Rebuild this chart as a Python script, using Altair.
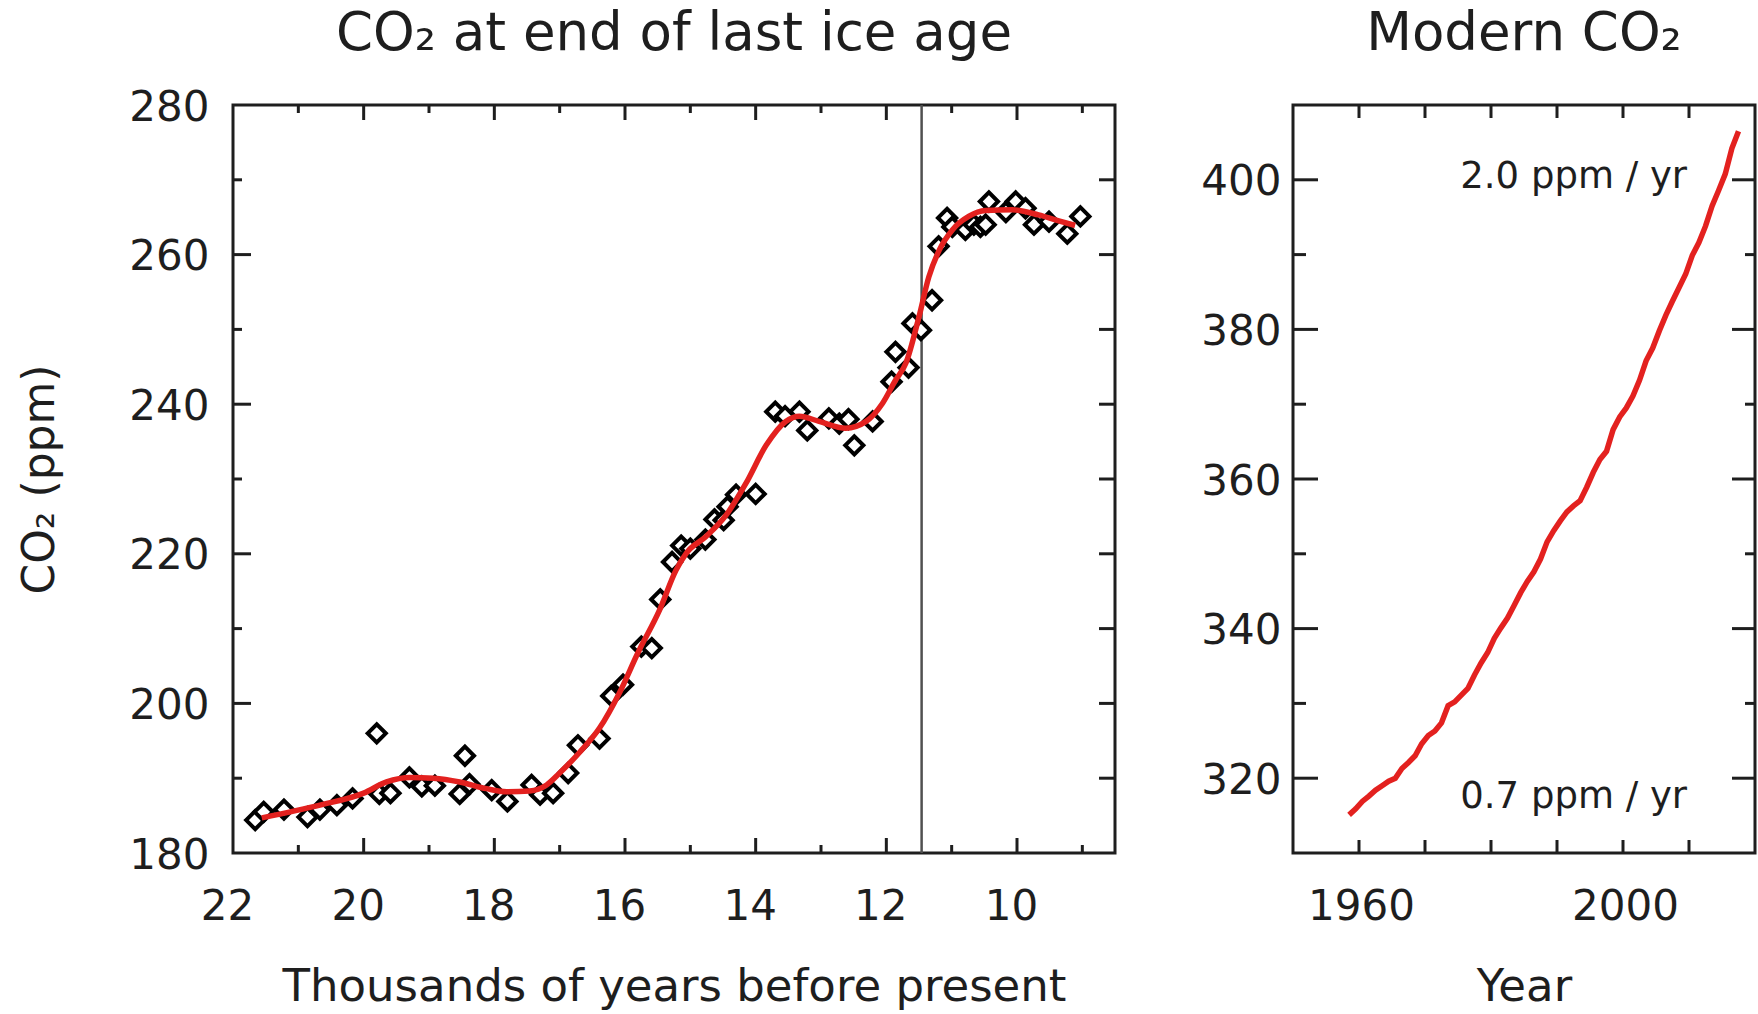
import altair as alt
import pandas as pd

FONT = "DejaVu Sans"
INK = "#1e1e1e"
RED = "#e3211f"

# Ice-core CO2 measurements across the last deglaciation
ice_kyr = [21.66, 21.53, 21.22, 20.86, 20.67, 20.41, 20.17, 19.80, 19.76, 19.59,
           19.30, 19.11, 18.91, 18.53, 18.45, 18.38, 18.04, 17.80, 17.43, 17.30,
           17.10, 16.87, 16.72, 16.39, 16.21, 16.03, 15.75, 15.59, 15.46, 15.28,
           15.14, 15.00, 14.77, 14.63, 14.49, 14.43, 14.30, 14.00, 13.70, 13.55,
           13.33, 13.21, 12.88, 12.72, 12.58, 12.49, 12.21, 11.92, 11.86, 11.66,
           11.60, 11.47, 11.30, 11.20, 11.07, 10.99, 10.79, 10.66, 10.56, 10.48,
           10.43, 10.17, 10.02, 9.87, 9.74, 9.51, 9.23, 9.03]
ice_co2 = [184.4, 185.5, 185.8, 184.8, 185.8, 186.4, 187.3, 196.0, 187.9, 188.0,
           190.1, 188.9, 189.0, 187.9, 193.0, 189.2, 188.4, 186.9, 189.1, 187.8,
           188.0, 190.7, 194.4, 195.3, 201.0, 202.5, 207.6, 207.4, 213.9, 218.9,
           221.1, 220.7, 221.9, 224.6, 224.5, 226.3, 227.9, 228.0, 239.0, 238.4,
           239.0, 236.5, 238.1, 237.4, 238.0, 234.5, 237.7, 243.0, 247.0, 244.9,
           250.8, 249.9, 253.9, 261.1, 264.9, 263.7, 263.3, 264.0, 263.7, 264.0,
           267.1, 265.7, 267.1, 266.2, 264.0, 264.4, 262.8, 265.1]

# Smoothed fit through the ice-core record
fit_kyr = [21.56, 20.67, 20.00, 19.65, 19.29, 18.93, 18.53, 18.12, 17.81, 17.46,
           17.20, 17.00, 16.69, 16.39, 16.08, 15.80, 15.47, 15.22, 15.06, 14.76,
           14.45, 14.15, 13.84, 13.54, 13.33, 13.03, 12.62, 12.31, 12.06, 11.86,
           11.70, 11.50, 11.35, 11.19, 10.99, 10.74, 10.48, 10.07, 9.67, 9.36, 9.11]
fit_co2 = [184.7, 186.4, 188.0, 189.5, 190.1, 190.0, 189.5, 188.6, 188.2, 188.3,
           189.1, 190.7, 193.5, 196.7, 201.5, 206.8, 212.5, 217.8, 220.1, 222.3,
           225.2, 229.4, 234.5, 237.7, 238.4, 237.7, 236.8, 237.7, 240.1, 243.2,
           245.5, 251.7, 257.0, 260.6, 263.3, 265.1, 265.9, 266.0, 265.3, 264.5, 263.9]

# End of the Younger Dryas
boundary_kyr = [11.46]

# Annual mean CO2 at Mauna Loa
modern_year = [1958.5, 1959.5, 1960.5, 1961.5, 1962.5, 1963.5, 1964.5, 1965.5, 1966.5, 1967.5,
               1968.5, 1969.5, 1970.5, 1971.5, 1972.5, 1973.5, 1974.5, 1975.5, 1976.5, 1977.5,
               1978.5, 1979.5, 1980.5, 1981.5, 1982.5, 1983.5, 1984.5, 1985.5, 1986.5, 1987.5,
               1988.5, 1989.5, 1990.5, 1991.5, 1992.5, 1993.5, 1994.5, 1995.5, 1996.5, 1997.5,
               1998.5, 1999.5, 2000.5, 2001.5, 2002.5, 2003.5, 2004.5, 2005.5, 2006.5, 2007.5,
               2008.5, 2009.5, 2010.5, 2011.5, 2012.5, 2013.5, 2014.5, 2015.5, 2016.5, 2017.5]
modern_co2 = [315.1, 315.9, 316.9, 317.6, 318.4, 319.0, 319.6, 320.0, 321.3, 322.1,
              323.0, 324.6, 325.7, 326.3, 327.4, 329.7, 330.2, 331.1, 332.0, 333.8,
              335.4, 336.8, 338.7, 340.1, 341.4, 343.1, 344.8, 346.3, 347.6, 349.3,
              351.6, 353.1, 354.4, 355.6, 356.4, 357.1, 358.9, 360.9, 362.6, 363.7,
              366.6, 368.3, 369.5, 371.1, 373.2, 375.8, 377.5, 379.8, 381.9, 383.8,
              385.6, 387.4, 389.9, 391.6, 393.8, 396.5, 398.6, 400.8, 404.2, 406.5]

# Growth-rate annotations
rate_labels = ["2.0 ppm / yr", "0.7 ppm / yr"]
rate_year = [2009.7, 2009.7]
rate_co2 = [398.9, 316.0]

# Axis labels and tick marks
ice_x_labels = [22, 20, 18, 16, 14, 12, 10]
ice_x_major = [20, 18, 16, 14, 12, 10]
ice_x_minor = [21, 19, 17, 15, 13, 11, 9]
ice_y_labels = [180, 200, 220, 240, 260, 280]
ice_y_major = [200, 220, 240, 260]
ice_y_minor = [190, 210, 230, 250, 270]
mod_x_labels = [1960, 2000]
mod_x_ticks = [1960, 1970, 1980, 1990, 2000, 2010]
mod_y_labels = [320, 340, 360, 380, 400]
mod_y_major = [320, 340, 360, 380, 400]
mod_y_minor = [330, 350, 370, 390]

ICE_W, MOD_W, H = 882, 462, 748

label_style = dict(labelFont=FONT, labelFontSize=42, labelColor=INK,
                   ticks=False, tickSize=0, domain=False, grid=False,
                   titleFont=FONT, titleFontWeight="normal", titleColor=INK)
x_style = dict(labelPadding=33, labelFlush=False, titleFontSize=45,
               titleY=147, titleBaseline="alphabetic", **label_style)

ice_xscale = alt.Scale(domain=[8.5, 22], reverse=True, nice=False, zero=False)
ice_yscale = alt.Scale(domain=[180, 280], nice=False, zero=False)
mod_xscale = alt.Scale(domain=[1950, 2020], nice=False, zero=False)
mod_yscale = alt.Scale(domain=[310, 410], nice=False, zero=False)

ice_xaxis = alt.Axis(values=ice_x_labels, format="d", labelOffset=-6,
                     title="Thousands of years before present", **x_style)
ice_yaxis = alt.Axis(values=ice_y_labels, format="d", labelPadding=24, labelOffset=2,
                     title="CO₂ (ppm)", titleFontSize=44, titleAngle=270, titleX=-180,
                     titleBaseline="alphabetic", **label_style)
mod_xaxis = alt.Axis(values=mod_x_labels, format="d", labelOffset=2, title="Year", **x_style)
mod_yaxis = alt.Axis(values=mod_y_labels, format="d", labelPadding=12, labelOffset=2,
                     title=None, **label_style)


def enc(channel, scale, axis):
    def make(field):
        return channel(f"{field}:Q", scale=scale, axis=axis)
    return make


ice_x = enc(alt.X, ice_xscale, ice_xaxis)
ice_y = enc(alt.Y, ice_yscale, ice_yaxis)
mod_x = enc(alt.X, mod_xscale, mod_xaxis)
mod_y = enc(alt.Y, mod_yscale, mod_yaxis)


def x_ticks(values, xenc, length):
    base = alt.Chart(pd.DataFrame({"t": values})).mark_rule(color=INK, strokeWidth=3)
    return [
        base.encode(x=xenc("t"), y=alt.value(H), y2=alt.value(H - length)),
        base.encode(x=xenc("t"), y=alt.value(0), y2=alt.value(length)),
    ]


def y_ticks(values, yenc, width, len_left, len_right):
    base = alt.Chart(pd.DataFrame({"t": values})).mark_rule(color=INK, strokeWidth=3)
    return [
        base.encode(y=yenc("t"), x=alt.value(0), x2=alt.value(len_left)),
        base.encode(y=yenc("t"), x=alt.value(width), x2=alt.value(width - len_right)),
    ]


def panel_title(text, offset):
    return alt.TitleParams(text=text, font=FONT, fontSize=53, fontWeight="normal",
                           color=INK, anchor="middle", frame="group", offset=offset,
                           baseline="alphabetic")


# Left panel: deglacial record
ice_df = pd.DataFrame({"kyr": ice_kyr, "co2": ice_co2})
fit_df = pd.DataFrame({"kyr": fit_kyr, "co2": fit_co2})
boundary_df = pd.DataFrame({"kyr": boundary_kyr})

boundary = alt.Chart(boundary_df).mark_rule(color="#505050", strokeWidth=2.5).encode(
    x=ice_x("kyr"))
points = alt.Chart(ice_df).mark_point(
    shape="diamond", size=330, filled=False, fill="white", fillOpacity=1,
    stroke="black", strokeWidth=4, opacity=1
).encode(x=ice_x("kyr"), y=ice_y("co2"))
fit = alt.Chart(fit_df).mark_line(color=RED, strokeWidth=5.5, interpolate="monotone").encode(
    x=ice_x("kyr"), y=ice_y("co2"))

ice_layers = ([boundary, points, fit]
              + x_ticks(ice_x_major, ice_x, 15) + x_ticks(ice_x_minor, ice_x, 8)
              + y_ticks(ice_y_major, ice_y, ICE_W, 18, 16)
              + y_ticks(ice_y_minor, ice_y, ICE_W, 9, 16))
ice_panel = alt.layer(*ice_layers).properties(
    width=ICE_W, height=H, title=panel_title("CO₂ at end of last ice age", -17))

# Right panel: instrumental record
mod_df = pd.DataFrame({"year": modern_year, "co2": modern_co2})
rate_df = pd.DataFrame({"year": rate_year, "co2": rate_co2, "label": rate_labels})

mod_line = alt.Chart(mod_df).mark_line(color=RED, strokeWidth=5.5).encode(
    x=mod_x("year"), y=mod_y("co2"))
rates = alt.Chart(rate_df).mark_text(
    font=FONT, fontSize=37, color=INK, align="right", baseline="alphabetic"
).encode(x=mod_x("year"), y=mod_y("co2"), text="label:N")

mod_layers = ([mod_line, rates]
              + x_ticks(mod_x_ticks, mod_x, 13)
              + y_ticks(mod_y_major, mod_y, MOD_W, 25, 23)
              + y_ticks(mod_y_minor, mod_y, MOD_W, 13, 10))
mod_panel = alt.layer(*mod_layers).properties(
    width=MOD_W, height=H, title=panel_title("Modern CO₂", 1))

chart = alt.hconcat(ice_panel, mod_panel, spacing=178, bounds="flush").properties(
    padding={"left": 16, "top": 6, "right": 0, "bottom": 0},
    background="white",
).configure_view(stroke=INK, strokeWidth=3)

chart.save("out.html", embed_options={"renderer": "svg", "actions": False})
